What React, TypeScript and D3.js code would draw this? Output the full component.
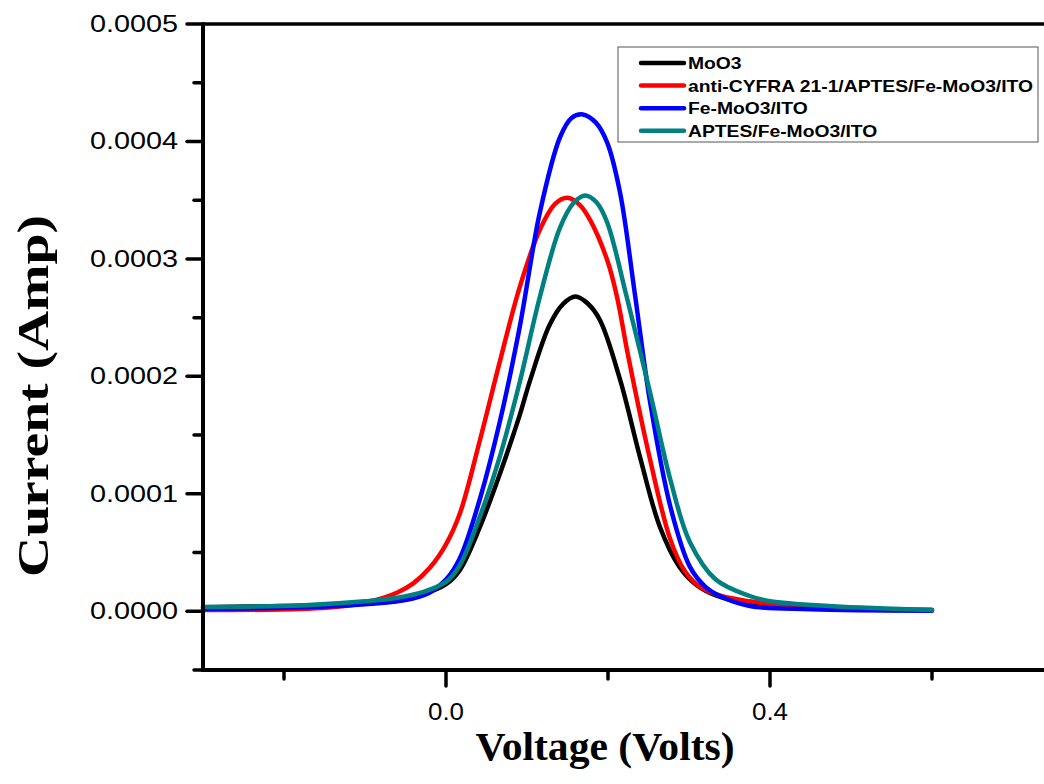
import React from 'react';
import * as d3 from 'd3';

const seriesNames = ['MoO3', 'anti-CYFRA 21-1/APTES/Fe-MoO3/ITO', 'Fe-MoO3/ITO', 'APTES/Fe-MoO3/ITO'];
const seriesColors = ['#000000', '#ff0000', '#0000ff', '#008080'];

// Voltage (V) and current (units of 1e-4 A)
const moo3Volt = [-0.30, -0.20, -0.12, -0.06, -0.03, 0.0, 0.017, 0.042, 0.067, 0.091, 0.104, 0.128, 0.145, 0.16, 0.175, 0.19, 0.215, 0.24, 0.264, 0.288, 0.31, 0.335, 0.37, 0.45, 0.60];
const moo3Cur = [0.034, 0.045, 0.06, 0.09, 0.14, 0.23, 0.35, 0.72, 1.18, 1.67, 1.97, 2.44, 2.62, 2.68, 2.62, 2.48, 1.97, 1.30, 0.72, 0.38, 0.22, 0.13, 0.07, 0.026, 0.01];

const antiVolt = [-0.30, -0.18, -0.12, -0.09, -0.06, -0.04, -0.02, 0.0, 0.017, 0.042, 0.067, 0.091, 0.116, 0.135, 0.15, 0.165, 0.178, 0.199, 0.211, 0.225, 0.252, 0.277, 0.295, 0.313, 0.34, 0.375, 0.45, 0.60];
const antiCur = [0.01, 0.02, 0.05, 0.09, 0.16, 0.24, 0.37, 0.57, 0.83, 1.46, 2.14, 2.76, 3.25, 3.47, 3.52, 3.46, 3.33, 2.99, 2.68, 2.17, 1.29, 0.61, 0.34, 0.21, 0.13, 0.085, 0.034, 0.01];

const feVolt = [-0.30, -0.18, -0.10, -0.06, -0.04, -0.02, 0.0, 0.017, 0.042, 0.067, 0.091, 0.116, 0.141, 0.155, 0.169, 0.185, 0.199, 0.215, 0.233, 0.252, 0.277, 0.301, 0.32, 0.338, 0.375, 0.45, 0.60];
const feCur = [0.02, 0.034, 0.06, 0.085, 0.11, 0.16, 0.27, 0.45, 0.96, 1.63, 2.42, 3.40, 4.04, 4.20, 4.23, 4.16, 3.99, 3.56, 2.71, 1.78, 0.89, 0.38, 0.21, 0.13, 0.045, 0.017, 0.005];

const aptesVolt = [-0.30, -0.18, -0.10, -0.06, -0.03, 0.0, 0.017, 0.042, 0.067, 0.091, 0.116, 0.141, 0.158, 0.172, 0.186, 0.199, 0.223, 0.252, 0.277, 0.301, 0.333, 0.375, 0.40, 0.478, 0.60];
const aptesCur = [0.037, 0.05, 0.085, 0.115, 0.16, 0.25, 0.39, 0.81, 1.33, 1.95, 2.68, 3.27, 3.48, 3.54, 3.48, 3.31, 2.68, 1.86, 1.12, 0.59, 0.27, 0.13, 0.085, 0.043, 0.01];

const yMajorTicks = [0, 1, 2, 3, 4, 5];
const yMinorTicks = [-0.5, 0.5, 1.5, 2.5, 3.5, 4.5];
const xMajorTicks = [0.0, 0.4];
const xMinorTicks = [-0.2, 0.2, 0.6];

const seriesVolt = [moo3Volt, antiVolt, feVolt, aptesVolt];
const seriesCur = [moo3Cur, antiCur, feCur, aptesCur];

export default function App() {
  const W = 1044, H = 784;
  const left = 203, top = 24, bottom = 670;
  const x = d3.scaleLinear().domain([-0.3, 0.75]).range([left, left + 1.05 * 810]);
  const y = d3.scaleLinear().domain([-0.5, 5]).range([bottom, top]);
  const line = d3.line<[number, number]>()
    .x(d => x(d[0]))
    .y(d => y(d[1]))
    .curve(d3.curveCatmullRom.alpha(0.5));

  const sans = 'Arial, "Liberation Sans", Helvetica, sans-serif';
  const serif = '"Times New Roman", "Liberation Serif", Times, serif';

  return (
    <svg width={W} height={H} style={{ position: 'absolute', left: 0, top: 0, background: '#fff' }}>
      <rect x={0} y={0} width={W} height={H} fill="#fff" />
      {seriesVolt.map((vs, i) => (
        <path key={i}
          d={line(vs.map((v, j) => [v, seriesCur[i][j]] as [number, number])) || ''}
          fill="none" stroke={seriesColors[i]} strokeWidth={4.5}
          strokeLinejoin="round" strokeLinecap="round" />
      ))}
      {/* axes */}
      <line x1={left} x2={W} y1={top} y2={top} stroke="#000" strokeWidth={3.5} />
      <line x1={left} x2={W} y1={bottom} y2={bottom} stroke="#000" strokeWidth={4} />
      <line x1={left} x2={left} y1={top - 1.5} y2={bottom + 2} stroke="#000" strokeWidth={4} />
      {yMajorTicks.map(t => (
        <g key={'ym' + t}>
          <line x1={left - 16} x2={left} y1={y(t)} y2={y(t)} stroke="#000" strokeWidth={3.5} strokeLinecap="round" />
          <text transform={`translate(178,${y(t) + 8}) scale(1.2,1)`} textAnchor="end"
            fontFamily={sans} fontSize={24} fill="#000">{(t * 1e-4).toFixed(4)}</text>
        </g>
      ))}
      {yMinorTicks.map(t => (
        <line key={'yn' + t} x1={left - 9} x2={left} y1={y(t)} y2={y(t)} stroke="#000" strokeWidth={3.5} strokeLinecap="round" />
      ))}
      {xMajorTicks.map(t => (
        <g key={'xm' + t}>
          <line x1={x(t)} x2={x(t)} y1={bottom} y2={bottom + 16} stroke="#000" strokeWidth={3.5} strokeLinecap="round" />
          <text transform={`translate(${x(t)},720) scale(1.08,1)`} textAnchor="middle"
            fontFamily={sans} fontSize={24} fill="#000">{t.toFixed(1)}</text>
        </g>
      ))}
      {xMinorTicks.map(t => (
        <line key={'xn' + t} x1={x(t)} x2={x(t)} y1={bottom} y2={bottom + 9} stroke="#000" strokeWidth={3.5} strokeLinecap="round" />
      ))}
      {/* axis titles */}
      <text transform="translate(605,760) scale(1.04,1)" textAnchor="middle" fontFamily={serif}
        fontWeight="bold" fontSize={40} fill="#000">Voltage (Volts)</text>
      <text transform="translate(48,396) rotate(-90)" textAnchor="middle" fontFamily={serif}
        fontWeight="bold" fontSize={44} fill="#000" textLength={362} lengthAdjust="spacingAndGlyphs">Current (Amp)</text>
      {/* legend */}
      <rect x={618} y={47} width={420} height={95} fill="#fff" stroke="#555" strokeWidth={1} />
      {seriesNames.map((name, i) => {
        const ry = 63 + i * 22.6;
        return (
          <g key={name}>
            <line x1={641} x2={684} y1={ry} y2={ry} stroke={seriesColors[i]} strokeWidth={4.5} strokeLinecap="round" />
            <text transform={`translate(688,${ry + 6}) scale(1.17,1)`} fontFamily={sans} fontWeight="bold"
              fontSize={16.5} fill="#000">{name}</text>
          </g>
        );
      })}
    </svg>
  );
}
